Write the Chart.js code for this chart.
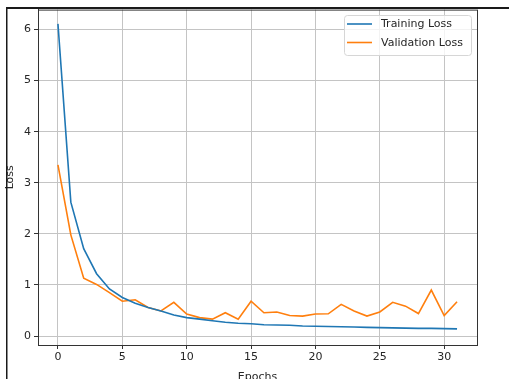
<!DOCTYPE html>
<html>
<head>
<meta charset="utf-8">
<script src="https://cdn.jsdelivr.net/npm/chart.js@4.4.1/dist/chart.umd.min.js"></script>
<style>
  html, body { margin: 0; padding: 0; background: #fff; }
  #wrap { width: 509px; height: 379px; position: relative; }
</style>
</head>
<body>
<div id="wrap"><canvas id="myChart" width="509" height="379"></canvas></div>
<script>
const epochs = [0,1,2,3,4,5,6,7,8,9,10,11,12,13,14,15,16,17,18,19,20,21,22,23,24,25,26,27,28,29,30,31];
const trainLoss = [6.11, 2.62, 1.71, 1.22, 0.92, 0.755, 0.64, 0.56, 0.49, 0.41, 0.36, 0.33, 0.30, 0.27, 0.25, 0.24,
    0.22, 0.215, 0.21, 0.195, 0.19, 0.185, 0.18, 0.175, 0.17, 0.165, 0.16, 0.155, 0.15, 0.15, 0.145, 0.14];
const valLoss = [3.35, 1.98, 1.13, 1.01, 0.85, 0.68, 0.71, 0.56, 0.49, 0.66, 0.43, 0.36, 0.33, 0.455, 0.33, 0.68,
    0.455, 0.47, 0.40, 0.39, 0.43, 0.435, 0.62, 0.49, 0.39, 0.47, 0.66, 0.585, 0.44, 0.90, 0.40, 0.67];
const xTicks = [0, 5, 10, 15, 20, 25, 30];
const yTicks = [0, 1, 2, 3, 4, 5, 6];

const tickFont = { family: 'DejaVu Sans', size: 11 };
const textColor = '#262626';

// frame, top/right spines and the boxed legend
const extras = {
    id: 'extras',
    afterDraw(chart) {
        const c = chart.ctx;
        const a = chart.chartArea;
        c.save();
        c.strokeStyle = '#333';
        c.lineWidth = 1;
        c.strokeRect(a.left + 0.5, a.top + 0.5, a.right - a.left, a.bottom - a.top);

        // screenshot border
        c.fillStyle = '#1a1a1a';
        c.fillRect(6, 7, 503, 2);
        c.fillRect(6, 7, 1.5, 372);

        // legend box
        const bx = 344, by = 15, bw = 127, bh = 40;
        c.beginPath();
        c.roundRect(bx + 0.5, by + 0.5, bw, bh, 3);
        c.fillStyle = 'rgba(255,255,255,0.8)';
        c.fill();
        c.strokeStyle = '#d6d6d6';
        c.stroke();

        c.font = '11px "DejaVu Sans"';
        c.textBaseline = 'middle';
        chart.data.datasets.forEach((ds, i) => {
            const ly = 24 + i * 18.5;
            c.strokeStyle = ds.borderColor;
            c.lineWidth = 1.6;
            c.beginPath();
            c.moveTo(347, ly);
            c.lineTo(372, ly);
            c.stroke();
            c.fillStyle = textColor;
            c.fillText(ds.label, 381, ly + 0.5);
        });
        c.restore();
    }
};

const ctx = document.getElementById('myChart');
const config = {
    type: 'line',
    data: {
        datasets: [{
            label: 'Training Loss',
            data: epochs.map((e, i) => ({ x: e, y: trainLoss[i] })),
            borderColor: '#1f77b4',
            borderWidth: 1.6,
            pointRadius: 0,
            tension: 0
        }, {
            label: 'Validation Loss',
            data: epochs.map((e, i) => ({ x: e, y: valLoss[i] })),
            borderColor: '#ff7f0e',
            borderWidth: 1.6,
            pointRadius: 0,
            tension: 0
        }]
    },
    options: {
        responsive: false,
        animation: false,
        layout: { padding: { left: 0, right: 32, top: 9, bottom: 0 } },
        plugins: {
            legend: { display: false },
            tooltip: { enabled: false }
        },
        scales: {
            x: {
                type: 'linear',
                min: -1.55,
                max: 32.55,
                afterBuildTicks: (scale) => { scale.ticks = xTicks.map(v => ({ value: v })); },
                afterFit: (scale) => { scale.height = 34; },
                ticks: { font: tickFont, color: textColor, padding: 2, maxRotation: 0 },
                grid: { color: '#c4c4c4', tickColor: '#333', tickLength: 4, lineWidth: 1 },
                border: { color: '#333', width: 1 },
                title: { display: true, text: 'Epochs', font: tickFont, color: textColor, padding: { top: 0, bottom: -5 } }
            },
            y: {
                min: -0.176,
                max: 6.39,
                afterBuildTicks: (scale) => { scale.ticks = yTicks.map(v => ({ value: v })); },
                afterFit: (scale) => { scale.width = 38; },
                ticks: { font: tickFont, color: textColor, padding: 3 },
                grid: { color: '#c4c4c4', tickColor: '#333', tickLength: 4, lineWidth: 1 },
                border: { color: '#333', width: 1 },
                title: { display: true, text: 'Loss', font: tickFont, color: textColor, padding: { top: 4, bottom: 0 } }
            }
        }
    },
    plugins: [extras]
};

new Chart(ctx, config);
</script>
</body>
</html>
